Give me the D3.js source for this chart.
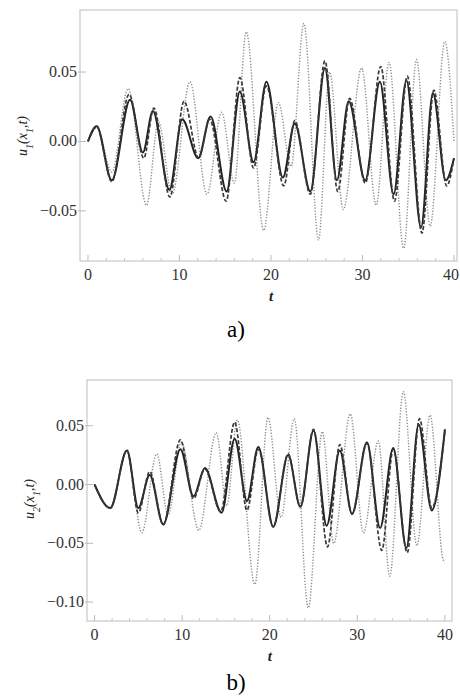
<!DOCTYPE html>
<html>
<head>
<meta charset="utf-8">
<script src="https://cdn.jsdelivr.net/npm/d3@7"></script>
<style>
  body { margin: 0; background: #fff; }
  svg { display: block; }
</style>
</head>
<body>
<div id="chart"></div>
<script>
// Peaks and troughs, as [t, u] pairs
const solidA = [[0,0],[0.95,0.011],[2.6,-0.028],[4.6,0.030],[6.0,-0.008],[7.1,0.022],[8.9,-0.035],[10.3,0.016],[12.05,-0.012],[13.4,0.018],[15.15,-0.036],[16.6,0.036],[18.1,-0.015],[19.5,0.043],[21.3,-0.026],[22.6,0.013],[24.3,-0.036],[25.9,0.053],[27.2,-0.028],[28.5,0.029],[30.3,-0.028],[31.9,0.043],[33.4,-0.038],[34.8,0.044],[36.4,-0.062],[37.7,0.035],[39.1,-0.028],[40,-0.012]];
const dashedA = [[0,0],[0.95,0.011],[2.6,-0.029],[4.5,0.034],[6.1,-0.012],[7.2,0.024],[8.95,-0.040],[10.5,0.029],[12.1,-0.012],[13.3,0.016],[15.1,-0.043],[16.6,0.046],[18.1,-0.019],[19.5,0.040],[21.4,-0.032],[22.6,0.015],[24.3,-0.038],[25.9,0.058],[27.3,-0.036],[28.6,0.031],[30.3,-0.030],[32.0,0.054],[33.5,-0.043],[34.9,0.047],[36.5,-0.066],[37.8,0.037],[39.2,-0.032],[40,-0.012]];
const dottedA = [[0,0],[1.0,0.010],[2.6,-0.022],[4.4,0.038],[6.4,-0.046],[7.7,0.014],[9.2,-0.038],[11.15,0.043],[13.0,-0.038],[14.6,0.021],[16.0,-0.030],[17.3,0.079],[19.2,-0.064],[20.8,0.028],[22.2,-0.018],[23.6,0.085],[25.2,-0.071],[26.4,0.050],[27.9,-0.049],[29.9,0.053],[31.5,-0.046],[32.9,0.057],[34.5,-0.077],[35.9,0.059],[37.4,-0.061],[39.0,0.072],[40,0.0]];

const solidB = [[0,0],[1.8,-0.020],[3.7,0.029],[5.0,-0.020],[6.3,0.008],[7.85,-0.034],[9.8,0.030],[11.3,-0.010],[12.6,0.014],[14.5,-0.024],[16.0,0.039],[17.4,-0.014],[18.7,0.032],[20.4,-0.036],[22.1,0.025],[23.5,-0.019],[25.0,0.046],[26.5,-0.035],[28.0,0.029],[29.4,-0.025],[31.1,0.036],[32.6,-0.037],[34.1,0.031],[35.6,-0.054],[37.0,0.051],[38.5,-0.022],[40,0.047]];
const dashedB = [[0,0],[1.8,-0.020],[3.7,0.029],[5.0,-0.024],[6.3,0.011],[7.85,-0.034],[9.8,0.038],[11.3,-0.012],[12.6,0.013],[14.4,-0.023],[16.0,0.053],[17.4,-0.022],[18.7,0.030],[20.4,-0.036],[22.1,0.026],[23.5,-0.019],[25.0,0.047],[26.6,-0.053],[28.0,0.034],[29.4,-0.025],[31.1,0.035],[32.8,-0.056],[34.1,0.030],[35.7,-0.058],[37.1,0.056],[38.5,-0.020],[40,0.045]];
const dottedB = [[0,0],[1.8,-0.020],[3.7,0.029],[5.4,-0.041],[7.1,0.026],[8.4,-0.026],[9.9,0.036],[11.9,-0.039],[13.9,0.044],[15.1,-0.018],[16.3,0.055],[18.3,-0.085],[19.8,0.057],[21.3,-0.028],[22.8,0.056],[24.4,-0.105],[26.0,0.045],[27.3,-0.050],[29.2,0.060],[30.7,-0.041],[32.4,0.037],[33.7,-0.078],[35.25,0.079],[36.8,-0.052],[38.3,0.059],[39.8,-0.064],[40,-0.066]];

const xTicks = [0, 10, 20, 30, 40];
const yTicksA = [-0.05, 0, 0.05];
const yTicksB = [-0.10, -0.05, 0, 0.05];

const serif = "'Liberation Serif', 'Times New Roman', serif";
const width = 460, height = 697;

const svg = d3.select("#chart").append("svg")
  .attr("width", width)
  .attr("height", height);

const lineStyles = {
  dotted: { stroke: "#8e8e8e", width: 1.4, dash: "1.3,1.6" },
  solid:  { stroke: "#222",    width: 2.0, dash: null },
  dashed: { stroke: "#3a3a3a", width: 1.7, dash: "4,2" }
};

function drawPanel(p) {
  const x = d3.scaleLinear().domain(p.xDomain).range([p.left, p.right]);
  const y = d3.scaleLinear().domain(p.yDomain).range([p.bottom, p.top]);
  const g = svg.append("g");

  // frame
  g.append("rect")
    .attr("x", p.left).attr("y", p.top)
    .attr("width", p.right - p.left).attr("height", p.bottom - p.top)
    .attr("fill", "none").attr("stroke", "#bdbdbd").attr("stroke-width", 1);

  // x ticks (inward) + labels
  const xMinor = d3.range(0, 41, 2).filter(v => v % 10 !== 0);
  g.selectAll("line.xminor").data(xMinor).enter().append("line")
    .attr("x1", d => x(d)).attr("x2", d => x(d))
    .attr("y1", p.bottom).attr("y2", p.bottom - 3)
    .attr("stroke", "#c8c8c8");
  g.selectAll("line.xmajor").data(xTicks).enter().append("line")
    .attr("x1", d => x(d)).attr("x2", d => x(d))
    .attr("y1", p.bottom).attr("y2", p.bottom - 6)
    .attr("stroke", "#bbb");
  g.selectAll("text.xt").data(xTicks).enter().append("text")
    .attr("x", d => Math.min(x(d), width - 9)).attr("y", p.bottom + 19)
    .attr("text-anchor", "middle")
    .style("font-family", serif).style("font-size", "16px").attr("fill", "#333")
    .text(d => d);

  // y ticks + labels
  g.selectAll("line.ymajor").data(p.yTicks).enter().append("line")
    .attr("x1", p.left - 2).attr("x2", p.left + 6)
    .attr("y1", d => y(d)).attr("y2", d => y(d))
    .attr("stroke", "#bbb");
  g.selectAll("text.yt").data(p.yTicks).enter().append("text")
    .attr("x", p.left - 3).attr("y", d => y(d) + 5)
    .attr("text-anchor", "end")
    .style("font-family", serif).style("font-size", "16px").attr("fill", "#333")
    .text(d => d3.format(".2f")(d).replace("-", "\u2212"));

  // curves
  const line = d3.line()
    .x(d => x(d[0])).y(d => y(d[1]))
    .curve(d3.curveMonotoneX);

  p.series.forEach(s => {
    const st = lineStyles[s.style];
    g.append("path")
      .datum(s.data)
      .attr("d", line)
      .attr("fill", "none")
      .attr("stroke", st.stroke)
      .attr("stroke-width", st.width)
      .attr("stroke-dasharray", st.dash)
      .attr("stroke-linejoin", "round");
  });

  // axis labels
  const yl = g.append("text")
    .attr("transform", `translate(${p.yLabelX},${p.yLabelY}) rotate(-90)`)
    .attr("text-anchor", "middle")
    .style("font-family", serif).style("font-size", "14px").style("font-style", "italic")
    .attr("fill", "#222");
  yl.append("tspan").text("u");
  yl.append("tspan").attr("baseline-shift", "sub").style("font-size", "10px").text(p.sub);
  yl.append("tspan").text("(x");
  yl.append("tspan").attr("baseline-shift", "sub").style("font-size", "10px").text("1");
  yl.append("tspan").text(",t)");

  g.append("text")
    .attr("x", (x(0) + x(40)) / 2).attr("y", p.bottom + 40)
    .attr("text-anchor", "middle")
    .style("font-family", serif).style("font-size", "15px").style("font-style", "italic")
    .style("font-weight", "bold").attr("fill", "#222")
    .text("t");

  g.append("text")
    .attr("x", 236).attr("y", p.captionY)
    .attr("text-anchor", "middle")
    .style("font-family", serif).style("font-size", "23px").attr("fill", "#000")
    .text(p.caption);
}

drawPanel({
  left: 80, right: 457, top: 10, bottom: 261,
  xDomain: [-0.87, 40.33], yDomain: [-0.0861, 0.0947],
  yTicks: yTicksA, sub: "1", yLabelX: 27, yLabelY: 136,
  caption: "a)", captionY: 337,
  series: [
    { style: "dotted", data: dottedA },
    { style: "solid", data: solidA },
    { style: "dashed", data: dashedA }
  ]
});

drawPanel({
  left: 87, right: 452, top: 380, bottom: 621,
  xDomain: [-0.86, 40.81], yDomain: [-0.1161, 0.0889],
  yTicks: yTicksB, sub: "2", yLabelX: 34, yLabelY: 499,
  caption: "b)", captionY: 690,
  series: [
    { style: "dotted", data: dottedB },
    { style: "solid", data: solidB },
    { style: "dashed", data: dashedB }
  ]
});
</script>
</body>
</html>
